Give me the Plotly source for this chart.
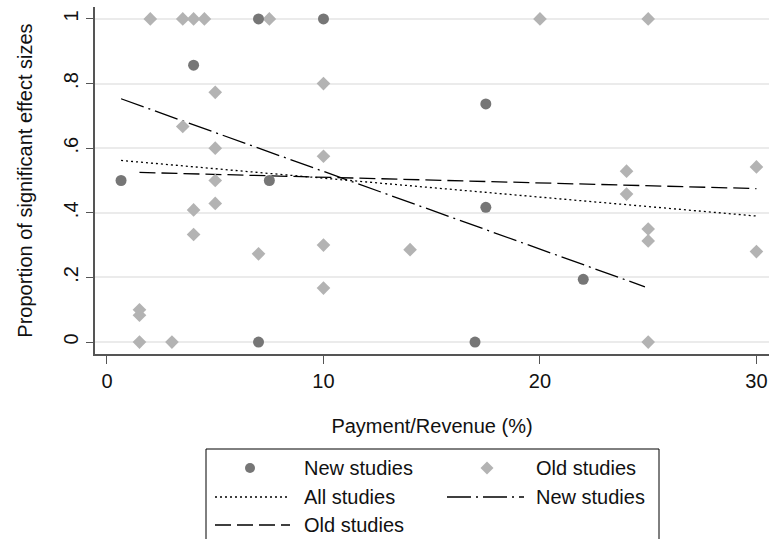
import plotly.graph_objects as go

# ---- data ----
new_x = [0.65, 4, 7, 7.5, 7, 10, 17.5, 17.5, 17, 22]
new_y = [0.5, 0.857, 1, 0.5, 0, 1, 0.737, 0.417, 0, 0.194]

old_x = [2, 3.5, 4, 4.5, 7.5, 20, 25, 10, 5, 3.5, 5, 10, 5, 5, 4, 4, 7, 10, 10,
         14, 1.5, 1.5, 1.5, 3, 25, 24, 24, 25, 25, 30, 30]
old_y = [1, 1, 1, 1, 1, 1, 1, 0.8, 0.773, 0.667, 0.6, 0.575, 0.5, 0.429, 0.409,
         0.333, 0.273, 0.3, 0.167, 0.286, 0.1, 0.083, 0, 0, 0, 0.529, 0.458,
         0.35, 0.313, 0.542, 0.28]

fit_all_x = [0.65, 30]
fit_all_y = [0.562, 0.39]
fit_new_x = [0.65, 24.85]
fit_new_y = [0.753, 0.171]
fit_old_x = [1.5, 30]
fit_old_y = [0.525, 0.475]

x_ticks = [0, 10, 20, 30]
x_tick_labels = ["0", "10", "20", "30"]
y_ticks = [0, 0.2, 0.4, 0.6, 0.8, 1]
y_tick_labels = ["0", ".2", ".4", ".6", ".8", "1"]

# ---- styles ----
W, H = 769, 539
ML, MR, MT, MB = 95, 0, 7, 185
PW, PH = W - ML - MR, H - MT - MB
FONT = "Liberation Sans, Arial, Helvetica, sans-serif"
FS = 20
C_NEW = "#767676"
C_OLD = "#b3b3b3"
DASH_ALL = "2px,3px"
DASH_NEW = "24px,5px,2px,5px"
DASH_OLD = "16px,6px"

fig = go.Figure()
fig.add_trace(go.Scatter(x=fit_all_x, y=fit_all_y, mode="lines",
                         line=dict(color="black", width=1.3, dash=DASH_ALL),
                         name="All studies"))
fig.add_trace(go.Scatter(x=fit_new_x, y=fit_new_y, mode="lines",
                         line=dict(color="black", width=1.3, dash=DASH_NEW),
                         name="New studies"))
fig.add_trace(go.Scatter(x=fit_old_x, y=fit_old_y, mode="lines",
                         line=dict(color="black", width=1.3, dash=DASH_OLD),
                         name="Old studies"))
fig.add_trace(go.Scatter(x=old_x, y=old_y, mode="markers",
                         marker=dict(symbol="diamond", size=10.5, color=C_OLD,
                                     line=dict(width=0)),
                         name="Old studies"))
fig.add_trace(go.Scatter(x=new_x, y=new_y, mode="markers",
                         marker=dict(symbol="circle", size=11, color=C_NEW,
                                     line=dict(width=0)),
                         name="New studies"))


# ---- custom legend (pixel -> paper helpers) ----
def px(xp):
    return (xp - ML) / PW


def py(yp):
    return (MT + PH - yp) / PH


shapes = []
annotations = []
# legend box
shapes.append(dict(type="rect", xref="paper", yref="paper",
                   x0=px(206), x1=px(659), y0=py(560), y1=py(449),
                   line=dict(color="black", width=1), fillcolor="white",
                   layer="below"))
rows = [468, 497, 525]
# row 1 markers
shapes.append(dict(type="circle", xref="paper", yref="paper",
                   x0=px(245), x1=px(255), y0=py(rows[0] + 5), y1=py(rows[0] - 5),
                   line=dict(width=0), fillcolor=C_NEW))
cx, cy, r = 487, rows[0], 6.5
shapes.append(dict(type="path", xref="paper", yref="paper",
                   path=f"M {px(cx - r)} {py(cy)} L {px(cx)} {py(cy - r)} "
                        f"L {px(cx + r)} {py(cy)} L {px(cx)} {py(cy + r)} Z",
                   line=dict(width=0), fillcolor=C_OLD))
# line samples
for (x0, x1, yy, dash) in [(215, 287, rows[1], DASH_ALL),
                           (447, 524, rows[1], DASH_NEW),
                           (215, 290, rows[2], DASH_OLD)]:
    shapes.append(dict(type="line", xref="paper", yref="paper",
                       x0=px(x0), x1=px(x1), y0=py(yy), y1=py(yy),
                       line=dict(color="black", width=1.3, dash=dash)))
for (xx, yy, txt) in [(302, rows[0], "New studies"), (534, rows[0], "Old studies"),
                      (302, rows[1], "All studies"), (534, rows[1], "New studies"),
                      (302, rows[2], "Old studies")]:
    annotations.append(dict(xref="paper", yref="paper", x=px(xx), y=py(yy),
                            text=txt, showarrow=False, xanchor="left",
                            yanchor="middle",
                            font=dict(family=FONT, size=FS, color="#111")))

fig.update_layout(
    width=W, height=H,
    margin=dict(l=ML, r=MR, t=MT, b=MB, autoexpand=False),
    paper_bgcolor="white", plot_bgcolor="white",
    showlegend=False,
    font=dict(family=FONT, size=FS, color="#111"),
    shapes=shapes, annotations=annotations,
    xaxis=dict(range=[-0.554, 30.58], tickvals=x_ticks, ticktext=x_tick_labels,
               automargin=False,
               showgrid=False, zeroline=False, showline=True, linecolor="#555",
               linewidth=1.5, ticks="outside", ticklen=8, tickwidth=1.3,
               tickcolor="#555", tickfont=dict(size=FS),
               title=dict(text="Payment/Revenue (%)", standoff=28,
                          font=dict(size=FS))),
    yaxis=dict(range=[-0.037, 1.037], tickvals=y_ticks, ticktext=y_tick_labels,
               automargin=False,
               tickangle=-90, showgrid=True, gridcolor="#ebebeb", gridwidth=1.5,
               zeroline=False, showline=True, linecolor="#555", linewidth=1.5,
               ticks="outside", ticklen=7, tickwidth=1.3, tickcolor="#555",
               tickfont=dict(size=FS),
               title=dict(text="Proportion of significant effect sizes",
                          standoff=22, font=dict(size=FS))),
)

fig.write_html("out.html",
               config={"displayModeBar": False},
               post_script="document.body.style.margin='0px';"
                           "document.body.style.overflow='hidden';")
